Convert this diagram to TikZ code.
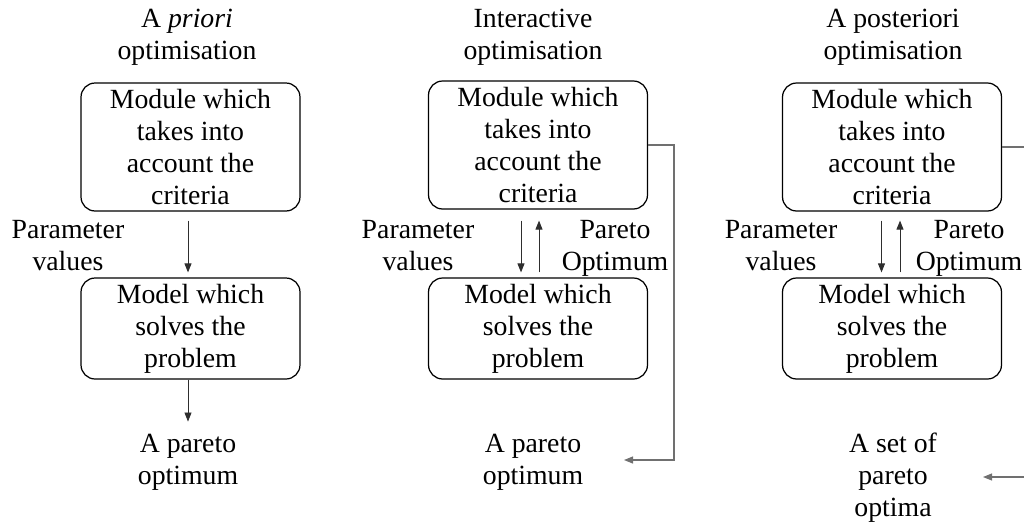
\documentclass[tikz,border=0pt]{standalone}
\usepackage{fontspec}
\setmainfont{Liberation Serif}
\usepackage{tikz}
\usetikzlibrary{arrows.meta,positioning}
\definecolor{edge}{HTML}{2E2E2E}
\definecolor{rail}{HTML}{707070}

\begin{document}
\begin{tikzpicture}[x=0.02cm,y=-0.02cm,every node/.style={font=\fontsize{15.8}{18.2}\selectfont,align=center,inner sep=0pt},box/.style={draw=black,line width=0.7pt,rounded corners=8pt,minimum width=4.38cm},modbox/.style={box,minimum height=2.56cm},solbox/.style={box,minimum height=2.02cm},arr/.style={-{Triangle[length=1.8mm,width=1.4mm]},edge,line width=0.5pt},link/.style={-{Triangle[length=1.8mm,width=1.4mm]},rail,line width=0.6pt}]
\useasboundingbox (0,0) rectangle (1024,522);
\clip (0,0) rectangle (1024,522);
% a priori
\node (ttl1) at (187,37) {A \textit{priori}\\optimisation};
\node[modbox] (mod1) at (190.5,147) {Module which\\takes into\\account the\\criteria};
\node[solbox] (sol1) at (190.5,328.5) {Model which\\solves the\\problem};
\node (par1) at (68,246) {Parameter\\values};
\node (res1) at (188,462) {A pareto\\optimum};
\draw[arr,shorten <=0.18cm,shorten >=0.1cm] (mod1.south -| res1) -- (sol1.north -| res1);
\draw[arr,shorten >=0.24cm] (sol1.south -| res1) -- (res1);
% interactive
\node (ttl2) at (533,37) {Interactive\\optimisation};
\node[modbox] (mod2) at (538,145) {Module which\\takes into\\account the\\criteria};
\node[solbox] (sol2) at (538,328.5) {Model which\\solves the\\problem};
\node (par2) at (418,246) {Parameter\\values};
\node (opt2) at (615,248) {Pareto\\Optimum};
\node (res2) at (533,462) {A pareto\\optimum};
\draw[arr,shorten <=0.22cm,shorten >=0.1cm] ([xshift=-0.34cm]mod2.south) -- ([xshift=-0.34cm]sol2.north);
\draw[arr,shorten <=0.1cm,shorten >=0.22cm] ([xshift=0.02cm]sol2.north) -- ([xshift=0.02cm]mod2.south);
\coordinate (rail2) at (674,460);
\coordinate (tip2) at (624,460);
\draw[link] (mod2.east) -| (rail2) -- (tip2);
% a posteriori
\node (ttl3) at (893,37) {A posteriori\\optimisation};
\node[modbox] (mod3) at (892,147) {Module which\\takes into\\account the\\criteria};
\node[solbox] (sol3) at (892,328.5) {Model which\\solves the\\problem};
\node (par3) at (781,246) {Parameter\\values};
\node (opt3) at (969,248) {Pareto\\Optimum};
\node (res3) at (893,478) {A set of\\pareto\\optima};
\draw[arr,shorten <=0.18cm,shorten >=0.1cm] ([xshift=-0.21cm]mod3.south) -- ([xshift=-0.21cm]sol3.north);
\draw[arr,shorten <=0.1cm,shorten >=0.18cm] ([xshift=0.16cm]sol3.north) -- ([xshift=0.16cm]mod3.south);
\coordinate (rail3) at (1040,477);
\coordinate (tip3) at (983,477);
\draw[link] (mod3.east) -| (rail3) -- (tip3);
\end{tikzpicture}
\end{document}
